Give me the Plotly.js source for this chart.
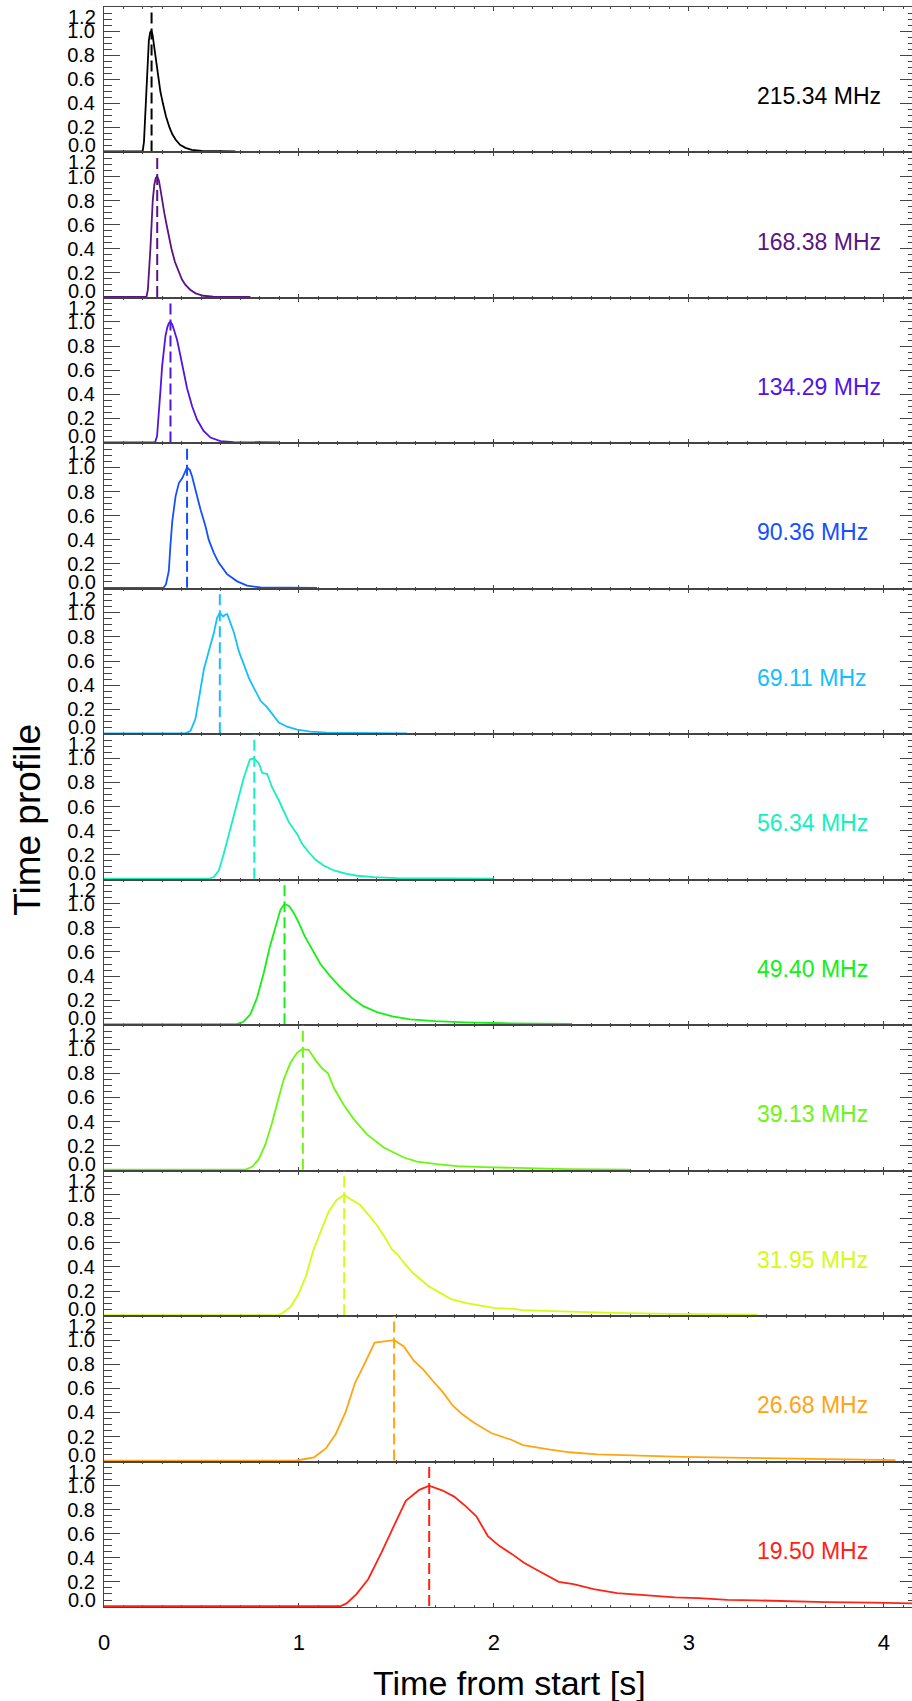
<!DOCTYPE html>
<html><head><meta charset="utf-8">
<script src="https://cdn.plot.ly/plotly-3.0.1.min.js"></script>
<style>html,body{margin:0;padding:0;overflow:hidden;background:#fff}#chart{width:920px;height:1701px}</style>
</head><body><div id="chart"></div>
<script>
// ---- data ----
const freqLabels = ['215.34 MHz','168.38 MHz','134.29 MHz','90.36 MHz','69.11 MHz','56.34 MHz','49.40 MHz','39.13 MHz','31.95 MHz','26.68 MHz','19.50 MHz'];
const colors = ['#000000','#5a1482','#5014e6','#1450ff','#14beff','#14f0be','#14f014','#6ef514','#d7fa14','#ffa514','#ff2314'];
const peakTimes = [0.244, 0.273, 0.341, 0.426, 0.594, 0.771, 0.926, 1.020, 1.232, 1.488, 1.668];
const yTickVals = [0, 0.2, 0.4, 0.6, 0.8, 1.0, 1.2];
const yTickText = ['', '0.2', '0.4', '0.6', '0.8', '1.0', ''];
const edgeLabels = ['0.0', '1.2'];
const xTickVals = [0, 1, 2, 3, 4];

const t_215 = [0,0.198,0.205,0.212,0.218,0.224,0.230,0.237,0.243,0.249,0.255,0.261,0.269,0.278,0.289,0.302,0.318,0.336,0.350,0.367,0.390,0.418,0.450,0.500,0.674];
const p_215 = [0,0,0.08,0.30,0.55,0.78,0.92,0.99,1.0,0.97,0.90,0.80,0.70,0.60,0.50,0.40,0.29,0.20,0.145,0.10,0.055,0.03,0.013,0.004,0];

const t_168 = [0,0.218,0.225,0.232,0.238,0.244,0.250,0.258,0.266,0.273,0.281,0.289,0.298,0.309,0.321,0.333,0.346,0.364,0.384,0.400,0.418,0.442,0.470,0.510,0.560,0.751];
const p_168 = [0,0,0.06,0.22,0.40,0.60,0.80,0.93,0.99,1.0,0.97,0.90,0.80,0.70,0.60,0.50,0.40,0.29,0.20,0.145,0.10,0.06,0.03,0.01,0.002,0];

const t_134 = [0,0.262,0.272,0.281,0.290,0.298,0.306,0.315,0.324,0.332,0.341,0.350,0.358,0.375,0.392,0.409,0.426,0.452,0.477,0.511,0.546,0.597,0.665,0.897];
const p_134 = [0,0,0.05,0.22,0.44,0.63,0.78,0.88,0.95,0.99,1.0,0.98,0.94,0.85,0.72,0.58,0.45,0.30,0.19,0.096,0.04,0.011,0.002,0];

const t_90 = [0,0.305,0.318,0.3325,0.341,0.350,0.367,0.384,0.401,0.415,0.426,0.440,0.452,0.469,0.495,0.521,0.537,0.563,0.588,0.631,0.683,0.734,0.803,1.093];
const p_90 = [0,0,0.03,0.14,0.36,0.55,0.76,0.87,0.91,0.96,1.0,0.98,0.925,0.815,0.65,0.51,0.40,0.29,0.21,0.114,0.054,0.018,0.004,0];

const t_69 = [0,0.418,0.444,0.469,0.495,0.512,0.537,0.563,0.580,0.594,0.611,0.622,0.632,0.649,0.666,0.692,0.717,0.743,0.768,0.803,0.837,0.862,0.897,0.939,0.991,1.059,1.144,1.555];
const p_69 = [0,0,0.02,0.12,0.366,0.53,0.68,0.83,0.96,1.0,0.97,0.985,0.99,0.91,0.84,0.68,0.57,0.46,0.38,0.27,0.215,0.16,0.09,0.055,0.03,0.014,0.005,0];

const t_56 = [0,0.537,0.563,0.589,0.614,0.649,0.683,0.717,0.748,0.769,0.794,0.811,0.837,0.862,0.897,0.948,0.991,1.016,1.050,1.085,1.127,1.179,1.245,1.299,1.384,1.503,1.999];
const p_56 = [0,0,0.014,0.069,0.206,0.426,0.646,0.839,0.99,1.0,0.96,0.88,0.87,0.76,0.65,0.47,0.37,0.29,0.22,0.157,0.11,0.069,0.041,0.025,0.014,0.005,0];

const t_49 = [0,0.680,0.715,0.750,0.785,0.820,0.850,0.880,0.905,0.926,0.950,0.975,1.000,1.030,1.070,1.110,1.160,1.210,1.270,1.330,1.400,1.480,1.570,1.700,1.850,2.050,2.400];
const p_49 = [0,0,0.02,0.08,0.22,0.43,0.64,0.82,0.95,1.0,0.98,0.92,0.84,0.73,0.61,0.50,0.40,0.31,0.22,0.15,0.10,0.065,0.04,0.025,0.015,0.008,0.003];

const t_39 = [0,0.726,0.760,0.794,0.828,0.862,0.888,0.922,0.956,0.990,1.016,1.050,1.085,1.119,1.149,1.179,1.229,1.281,1.349,1.435,1.538,1.606,1.708,1.811,1.948,2.119,2.375,2.700];
const p_39 = [0,0,0.024,0.087,0.21,0.39,0.55,0.75,0.886,0.97,1.0,0.995,0.91,0.84,0.80,0.68,0.54,0.42,0.293,0.184,0.101,0.066,0.046,0.03,0.021,0.013,0.005,0];

const t_32 = [0,0.889,0.908,0.957,0.997,1.036,1.075,1.114,1.153,1.193,1.232,1.271,1.314,1.349,1.398,1.437,1.477,1.506,1.545,1.584,1.663,1.722,1.781,1.859,1.928,2.007,2.105,2.144,2.301,2.439,2.615,2.910,3.106,3.352];
const p_32 = [0,0,0.008,0.069,0.173,0.325,0.545,0.71,0.861,0.957,1.0,0.957,0.916,0.847,0.751,0.655,0.545,0.503,0.421,0.352,0.242,0.187,0.132,0.099,0.077,0.058,0.052,0.041,0.033,0.025,0.019,0.011,0.008,0.003];

const t_27 = [0,0.980,1.008,1.078,1.138,1.188,1.238,1.288,1.338,1.388,1.488,1.538,1.588,1.638,1.688,1.738,1.788,1.838,1.898,1.988,2.089,2.149,2.289,2.389,2.529,2.649,2.769,2.970,3.209,3.410,3.610,3.810,4.010,4.060];
const p_27 = [0,0,0.007,0.027,0.101,0.219,0.398,0.646,0.81,0.98,1.0,0.948,0.832,0.755,0.659,0.568,0.458,0.384,0.315,0.227,0.173,0.129,0.091,0.069,0.052,0.046,0.035,0.03,0.024,0.018,0.012,0.007,0.004,0.003];

const t_20 = [0,1.214,1.244,1.295,1.355,1.423,1.498,1.548,1.617,1.668,1.737,1.796,1.856,1.910,1.969,2.029,2.095,2.154,2.244,2.333,2.408,2.512,2.632,2.751,2.840,2.930,3.049,3.198,3.347,3.526,3.705,3.944,4.170];
const p_20 = [0,0,0.022,0.099,0.223,0.443,0.704,0.874,0.965,1.0,0.959,0.909,0.828,0.745,0.58,0.498,0.429,0.36,0.278,0.201,0.182,0.14,0.107,0.094,0.08,0.072,0.066,0.052,0.047,0.039,0.033,0.028,0.022];

const times = [t_215,t_168,t_134,t_90,t_69,t_56,t_49,t_39,t_32,t_27,t_20];
const profiles = [p_215,p_168,p_134,p_90,p_69,p_56,p_49,p_39,p_32,p_27,p_20];

// ---- build ----
const N = freqLabels.length;
const FONT = '"Liberation Sans", Arial, Helvetica, sans-serif';
const AX = '#444';
const TICKFS = 20;
const traces = [];
const annotations = [];
const layout = {
  width: 920, height: 1701,
  margin: {l: 104, r: 4, t: 7, b: 94},
  paper_bgcolor: '#fff', plot_bgcolor: '#fff',
  showlegend: false,
  font: {family: FONT, color: '#000'},
};

for (let i = 0; i < N; i++) {
  const k = i + 1;
  const xa = 'x' + k, ya = 'y' + k;
  traces.push({x: times[i], y: profiles[i], xaxis: xa, yaxis: ya, type: 'scatter', mode: 'lines',
    line: {color: colors[i], width: 1.8}, hoverinfo: 'skip'});
  traces.push({x: [peakTimes[i], peakTimes[i]], y: [0, 1.2], xaxis: xa, yaxis: ya, type: 'scatter', mode: 'lines',
    line: {color: colors[i], width: 2, dash: '11px,5px'}, hoverinfo: 'skip'});
  const d0 = 1 - k / N, d1 = 1 - i / N;
  layout['xaxis' + k] = {
    domain: [0, 1], anchor: ya, range: [0, 4.165], tickmode: 'array', tickvals: xTickVals,
    ticks: 'inside', ticklen: 4, tickwidth: 1, tickcolor: AX,
    minor: {tickmode: 'linear', tick0: 0, dtick: 0.1, ticks: 'inside', ticklen: 2, tickcolor: AX},
    showline: true, linecolor: AX, linewidth: 1, mirror: 'ticks', showgrid: false, zeroline: false,
    showticklabels: k === N, tickfont: {size: 22, family: FONT, color: '#000'},
    ticklabelstandoff: 16, layer: 'below traces', fixedrange: true
  };
  layout['yaxis' + k] = {
    domain: [d0, d1], anchor: xa, range: [-0.008, 1.2], tickmode: 'array', tickvals: yTickVals, ticktext: yTickText,
    ticks: 'inside', ticklen: 16, tickwidth: 1, tickcolor: AX,
    minor: {tickmode: 'linear', tick0: 0, dtick: 0.05, ticks: 'inside', ticklen: 8, tickcolor: AX},
    showline: true, linecolor: AX, linewidth: 1, mirror: 'ticks', showgrid: false, zeroline: false,
    tickfont: {size: TICKFS, family: FONT, color: '#000'}, ticklabelstandoff: 4,
    layer: 'below traces', fixedrange: true
  };
  // edge tick labels (0.0 and 1.2) nudged inward, as in the original
  annotations.push({xref: 'paper', yref: ya, x: 0, y: 0, text: edgeLabels[0], showarrow: false,
    xanchor: 'right', yanchor: 'middle', xshift: -6, yshift: 6, font: {size: TICKFS, family: FONT, color: '#000'}});
  annotations.push({xref: 'paper', yref: ya, x: 0, y: 1.2, text: edgeLabels[1], showarrow: false,
    xanchor: 'right', yanchor: 'middle', xshift: -6, yshift: -10, font: {size: TICKFS, family: FONT, color: '#000'}});
  // frequency label
  annotations.push({xref: xa, yref: ya, x: 3.341, y: 0.46, text: freqLabels[i], showarrow: false,
    xanchor: 'left', yanchor: 'middle', font: {size: 23, family: FONT, color: colors[i]}});
}

annotations.push({xref: 'paper', yref: 'paper', x: 0.499, y: -0.0475, text: 'Time from start [s]', showarrow: false,
  xanchor: 'center', yanchor: 'middle', font: {size: 34, family: FONT, color: '#000'}});
annotations.push({xref: 'paper', yref: 'paper', x: -0.0936, y: 0.492, text: 'Time profile', showarrow: false, textangle: -90,
  xanchor: 'center', yanchor: 'middle', font: {size: 37, family: FONT, color: '#000'}});

layout.annotations = annotations;
Plotly.newPlot('chart', traces, layout, {displayModeBar: false, staticPlot: true});
</script></body></html>
